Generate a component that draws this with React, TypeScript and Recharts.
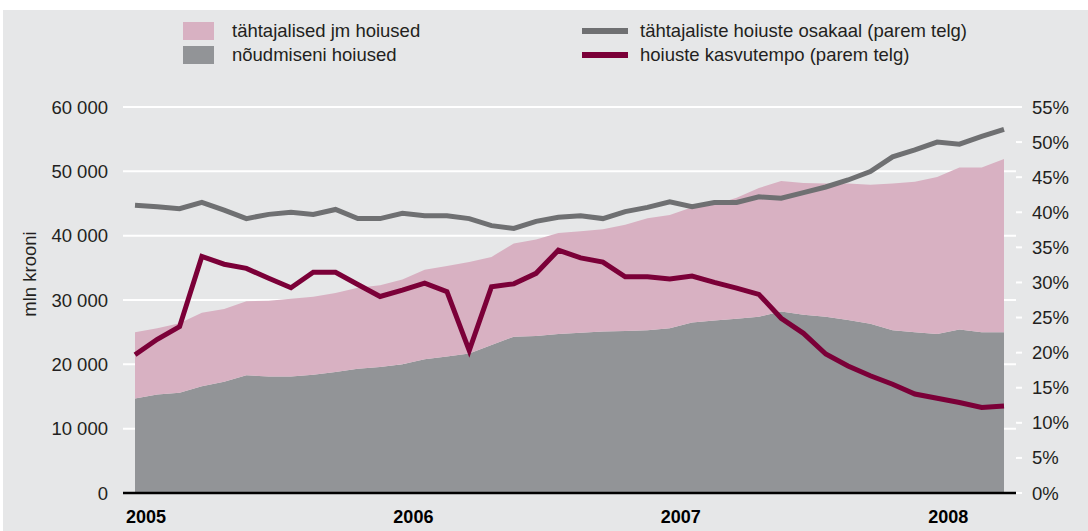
import React from "react";
import {
  ComposedChart,
  Area,
  Line,
  XAxis,
  YAxis,
  CartesianGrid,
} from "recharts";

const months = [
  "2005-01", "2005-02", "2005-03", "2005-04", "2005-05", "2005-06",
  "2005-07", "2005-08", "2005-09", "2005-10", "2005-11", "2005-12",
  "2006-01", "2006-02", "2006-03", "2006-04", "2006-05", "2006-06",
  "2006-07", "2006-08", "2006-09", "2006-10", "2006-11", "2006-12",
  "2007-01", "2007-02", "2007-03", "2007-04", "2007-05", "2007-06",
  "2007-07", "2007-08", "2007-09", "2007-10", "2007-11", "2007-12",
  "2008-01", "2008-02", "2008-03", "2008-04",
];

// nõudmiseni hoiused, mln krooni
const demand = [
  14700, 15300, 15600, 16600, 17300, 18300, 18100, 18100, 18400, 18800,
  19300, 19600, 20000, 20800, 21200, 21700, 23000, 24300, 24400, 24700,
  24900, 25100, 25200, 25300, 25600, 26500, 26800, 27100, 27400, 28200,
  27700, 27400, 26900, 26300, 25300, 25000, 24700, 25400, 25000, 25000,
];

// tähtajalised jm hoiused, mln krooni
const term = [
  10300, 10300, 10800, 11400, 11300, 11500, 11800, 12100, 12100, 12300,
  12600, 12700, 13200, 13900, 14100, 14200, 13700, 14500, 15000, 15700,
  15800, 15900, 16500, 17400, 17600, 17900, 18000, 18800, 20000, 20300,
  20500, 20700, 21200, 21600, 22800, 23400, 24400, 25200, 25600, 26900,
];

// tähtajaliste hoiuste osakaal, %
const share = [
  41.0, 40.8, 40.5, 41.4, 40.3, 39.1, 39.7, 40.0, 39.7, 40.4,
  39.1, 39.1, 39.85, 39.5, 39.5, 39.1, 38.1, 37.7, 38.7, 39.3,
  39.5, 39.1, 40.1, 40.7, 41.5, 40.8, 41.4, 41.4, 42.2, 42.0,
  42.8, 43.6, 44.6, 45.8, 47.9, 48.9, 50.0, 49.7, 50.8, 51.8,
];

// hoiuste kasvutempo, %
const growth = [
  19.7, 21.9, 23.7, 33.7, 32.6, 32.0, 30.6, 29.25, 31.45, 31.45,
  29.7, 28.0, 28.9, 29.9, 28.7, 20.3, 29.4, 29.8, 31.3, 34.6,
  33.5, 32.9, 30.8, 30.8, 30.5, 30.9, 30.0, 29.2, 28.3, 24.9,
  22.75, 19.8, 18.1, 16.7, 15.5, 14.1, 13.5, 12.9, 12.2, 12.4,
];

const yearTicks = ["2005-01", "2006-01", "2007-01", "2008-01"];
const leftTicks = [0, 10000, 20000, 30000, 40000, 50000, 60000];
const rightTicks = [0, 5, 10, 15, 20, 25, 30, 35, 40, 45, 50, 55];

const data = months.map((m, i) => ({
  month: m,
  demand: demand[i],
  term: term[i],
  share: share[i],
  growth: growth[i],
}));

const FONT = '"Liberation Sans", Arial, Helvetica, sans-serif';
const BG = "#e6e7e8";
const PINK = "#d8b1c2";
const GREY_AREA = "#929497";
const GREY_LINE = "#6f7072";
const MAROON = "#7b0038";
const TEXT = "#231f20";
const FS = 18.5;

const fmtThousands = (v: number) =>
  v === 0 ? "0" : `${Math.floor(v / 1000)} ${String(v % 1000).padStart(3, "0")}`;

const YearTick = (props: any) => {
  const { x, y, payload } = props;
  return (
    <text
      x={x + 11}
      y={y + 13}
      textAnchor="middle"
      fontFamily={FONT}
      fontSize={18}
      fontWeight="bold"
      fill="#000"
    >
      {String(payload.value).slice(0, 4)}
    </text>
  );
};

function LegendOverlay() {
  const text: React.CSSProperties = {
    position: "absolute",
    fontFamily: FONT,
    fontSize: FS,
    color: TEXT,
    lineHeight: "18px",
    whiteSpace: "nowrap",
  };
  return (
    <>
      <div style={{ position: "absolute", left: 183, top: 22, width: 31, height: 18, background: PINK }} />
      <div style={{ ...text, left: 232, top: 22 }}>tähtajalised jm hoiused</div>
      <div style={{ position: "absolute", left: 183, top: 46, width: 31, height: 18, background: GREY_AREA }} />
      <div style={{ ...text, left: 232, top: 46 }}>nõudmiseni hoiused</div>

      <div style={{ position: "absolute", left: 582, top: 28, width: 46, height: 6, background: GREY_LINE }} />
      <div style={{ ...text, left: 640, top: 22 }}>tähtajaliste hoiuste osakaal (parem telg)</div>
      <div style={{ position: "absolute", left: 582, top: 52, width: 46, height: 6, background: MAROON }} />
      <div style={{ ...text, left: 640, top: 46 }}>hoiuste kasvutempo (parem telg)</div>
    </>
  );
}

export default function App() {
  return (
    <div style={{ position: "absolute", left: 0, top: 0, width: 1088, height: 531, background: "#fff", overflow: "hidden" }}>
      <div style={{ position: "absolute", left: 3, top: 10, right: 0, bottom: 0, background: BG }} />
      <LegendOverlay />
      <div
        style={{
          position: "absolute",
          left: 30,
          top: 274,
          transform: "translate(-50%, -50%) rotate(-90deg)",
          fontFamily: FONT,
          fontSize: FS,
          color: TEXT,
          whiteSpace: "nowrap",
        }}
      >
        mln krooni
      </div>
      <div style={{ position: "absolute", left: 0, top: 0 }}>
        <ComposedChart
          width={1088}
          height={531}
          data={data}
          margin={{ top: 107, right: 0, bottom: 0, left: 0 }}
        >
          <CartesianGrid yAxisId="left" vertical={false} stroke="#ffffff" strokeWidth={2} />
          <YAxis
            yAxisId="left"
            orientation="left"
            width={123}
            domain={[0, 60000]}
            ticks={leftTicks}
            tickFormatter={fmtThousands}
            axisLine={false}
            tickLine={false}
            tickSize={0}
            tickMargin={15}
            tick={{ fontFamily: FONT, fontSize: FS, fill: TEXT }}
          />
          <YAxis
            yAxisId="right"
            orientation="right"
            width={72}
            domain={[0, 55]}
            ticks={rightTicks}
            tickFormatter={(v) => `${v}%`}
            axisLine={false}
            tickLine={{ stroke: "#ffffff", strokeWidth: 2 }}
            tickSize={6}
            tickMargin={10}
            tick={{ fontFamily: FONT, fontSize: FS, fill: TEXT }}
          />
          <Area
            yAxisId="left"
            type="linear"
            dataKey="demand"
            stackId="dep"
            stroke="none"
            fill={GREY_AREA}
            fillOpacity={1}
            isAnimationActive={false}
          />
          <Area
            yAxisId="left"
            type="linear"
            dataKey="term"
            stackId="dep"
            stroke="none"
            fill={PINK}
            fillOpacity={1}
            isAnimationActive={false}
          />
          <Line
            yAxisId="right"
            type="linear"
            dataKey="share"
            stroke={GREY_LINE}
            strokeWidth={5}
            strokeLinejoin="miter"
            dot={false}
            activeDot={false}
            isAnimationActive={false}
          />
          <Line
            yAxisId="right"
            type="linear"
            dataKey="growth"
            stroke={MAROON}
            strokeWidth={5}
            strokeLinejoin="miter"
            dot={false}
            activeDot={false}
            isAnimationActive={false}
          />
          <XAxis
            dataKey="month"
            ticks={yearTicks}
            interval={0}
            height={38}
            padding={{ left: 12, right: 12 }}
            axisLine={{ stroke: "#000000", strokeWidth: 2.5 }}
            tickLine={false}
            tickSize={0}
            tickMargin={17}
            tick={<YearTick />}
          />
        </ComposedChart>
      </div>
    </div>
  );
}
